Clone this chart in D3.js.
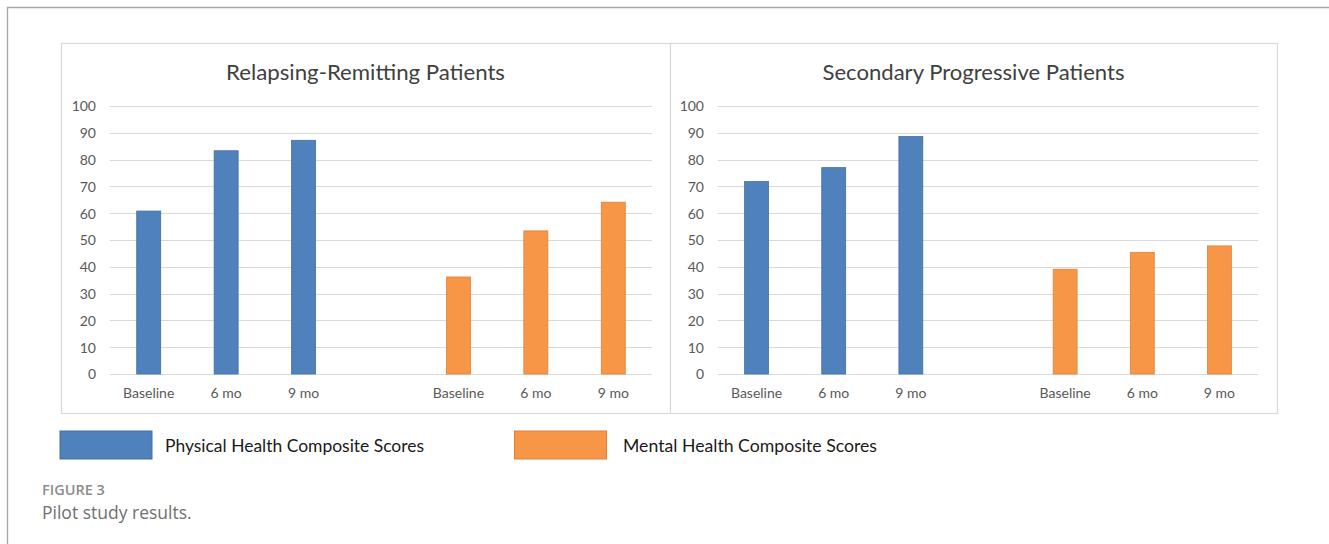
<!DOCTYPE html>
<html>
<head>
<meta charset="utf-8">
<script src="https://cdn.jsdelivr.net/npm/d3@7"></script>
<style>
  html, body { margin: 0; padding: 0; background: #ffffff; }
  svg { display: block; }
</style>
</head>
<body>
<svg id="chart" width="1329" height="544"></svg>
<script>
// ---- data ----
const timepoints = ["Baseline", "6 mo", "9 mo"];
const panelTitles = ["Relapsing-Remitting Patients", "Secondary Progressive Patients"];
const rrPhysical = [60.8, 83.3, 87.2];
const rrMental = [36.2, 53.4, 64.1];
const spPhysical = [71.8, 77.0, 88.6];
const spMental = [39.1, 45.4, 47.8];
const yTicks = [0, 10, 20, 30, 40, 50, 60, 70, 80, 90, 100];
const seriesNames = ["Physical Health Composite Scores", "Mental Health Composite Scores"];
const captionLabel = "FIGURE 3";
const captionText = "Pilot study results.";

// ---- style ----
const BLUE = "#4f81bd", BLUE_EDGE = "#41709f";
const ORANGE = "#f79646", ORANGE_EDGE = "#e08238";
const GRID = "#d9d9d9";
const TICK = "#595959";
const FONT = "Lato, 'Open Sans', sans-serif";

const svg = d3.select("#chart");

// outer page frame (top + left)
svg.append("path")
  .attr("d", "M7.5,544 L7.5,7.5 L1329,7.5")
  .attr("fill", "none")
  .attr("stroke", "#a6a6a6")
  .attr("stroke-width", 1.3);

const panels = [
  { title: panelTitles[0], phys: rrPhysical, ment: rrMental, box: [61, 43, 670, 413], plot: [110, 652], titleW: 279 },
  { title: panelTitles[1], phys: spPhysical, ment: spMental, box: [670, 43, 1277, 413], plot: [718, 1258], titleW: 302 }
];

// slot keys: 3 physical, gap, 3 mental
const slotKeys = timepoints.map(t => "P|" + t).concat(["gap"], timepoints.map(t => "M|" + t));

panels.forEach(p => {
  const [bx0, by0, bx1, by1] = p.box;
  const g = svg.append("g");

  g.append("rect")
    .attr("x", bx0 + 0.5).attr("y", by0 + 0.5)
    .attr("width", bx1 - bx0).attr("height", by1 - by0)
    .attr("fill", "#fff")
    .attr("stroke", GRID).attr("stroke-width", 1.2);

  const x = d3.scaleBand().domain(slotKeys).range(p.plot).padding(0);
  const y = d3.scaleLinear().domain([0, 100]).range([374, 106]);

  // gridlines
  g.append("g")
    .selectAll("line")
    .data(yTicks)
    .join("line")
    .attr("x1", p.plot[0]).attr("x2", p.plot[1])
    .attr("y1", d => Math.round(y(d)) + 0.5).attr("y2", d => Math.round(y(d)) + 0.5)
    .attr("stroke", GRID).attr("stroke-width", 1.2);

  // y axis labels
  const yAxis = d3.axisLeft(y).tickValues(yTicks).tickSize(0).tickPadding(0);
  const ya = g.append("g")
    .attr("transform", `translate(${p.plot[0] - 14},0)`)
    .call(yAxis);
  ya.select(".domain").remove();
  ya.selectAll("text")
    .attr("font-family", FONT).attr("font-size", 14).attr("fill", TICK)
    .attr("dy", "0.35em");

  // x axis labels
  const xAxis = d3.axisBottom(x).tickSize(0).tickPadding(0)
    .tickFormat(k => k === "gap" ? "" : k.split("|")[1]);
  const xa = g.append("g")
    .attr("transform", `translate(0,${y(0) + 16})`)
    .call(xAxis);
  xa.select(".domain").remove();
  xa.selectAll("text")
    .attr("font-family", FONT).attr("font-size", 14).attr("fill", TICK)
    .attr("dy", "0.6em");

  const barW = x.bandwidth() * 0.31;
  const bars = timepoints.map((t, i) => ({ key: "P|" + t, v: p.phys[i], fill: BLUE, edge: BLUE_EDGE }))
    .concat(timepoints.map((t, i) => ({ key: "M|" + t, v: p.ment[i], fill: ORANGE, edge: ORANGE_EDGE })));

  g.append("g")
    .selectAll("rect")
    .data(bars)
    .join("rect")
    .attr("x", d => x(d.key) + (x.bandwidth() - barW) / 2)
    .attr("y", d => y(d.v))
    .attr("width", barW)
    .attr("height", d => y(0) - y(d.v))
    .attr("fill", d => d.fill)
    .attr("stroke", d => d.edge)
    .attr("stroke-width", 0.8);

  // title
  g.append("text")
    .attr("x", (bx0 + bx1) / 2).attr("y", 80)
    .attr("text-anchor", "middle")
    .attr("font-family", FONT).attr("font-size", 21).attr("fill", "#404040")
    .attr("textLength", p.titleW).attr("lengthAdjust", "spacingAndGlyphs")
    .text(p.title);
});

// legend
const legend = [
  { name: seriesNames[0], fill: BLUE, edge: BLUE_EDGE, rx: 60, tx: 165, tw: 259 },
  { name: seriesNames[1], fill: ORANGE, edge: ORANGE_EDGE, rx: 514.5, tx: 623, tw: 254 }
];
const lg = svg.append("g");
lg.selectAll("rect")
  .data(legend)
  .join("rect")
  .attr("x", d => d.rx).attr("y", 431)
  .attr("width", 92).attr("height", 28)
  .attr("fill", d => d.fill)
  .attr("stroke", d => d.edge).attr("stroke-width", 1);
lg.selectAll("text")
  .data(legend)
  .join("text")
  .attr("x", d => d.tx).attr("y", 451.5)
  .attr("font-family", FONT).attr("font-size", 18).attr("fill", "#1a1a1a")
  .attr("textLength", d => d.tw).attr("lengthAdjust", "spacingAndGlyphs")
  .text(d => d.name);

// caption
svg.append("text")
  .attr("x", 42).attr("y", 494.5)
  .attr("font-family", "'Open Sans', sans-serif").attr("font-size", 14.5)
  .attr("font-weight", 600).attr("fill", "#8c8c8c")
  .text(captionLabel);
svg.append("text")
  .attr("x", 42).attr("y", 518.5)
  .attr("font-family", "'Open Sans', sans-serif").attr("font-size", 17.5)
  .attr("fill", "#707070")
  .text(captionText);
</script>
</body>
</html>
